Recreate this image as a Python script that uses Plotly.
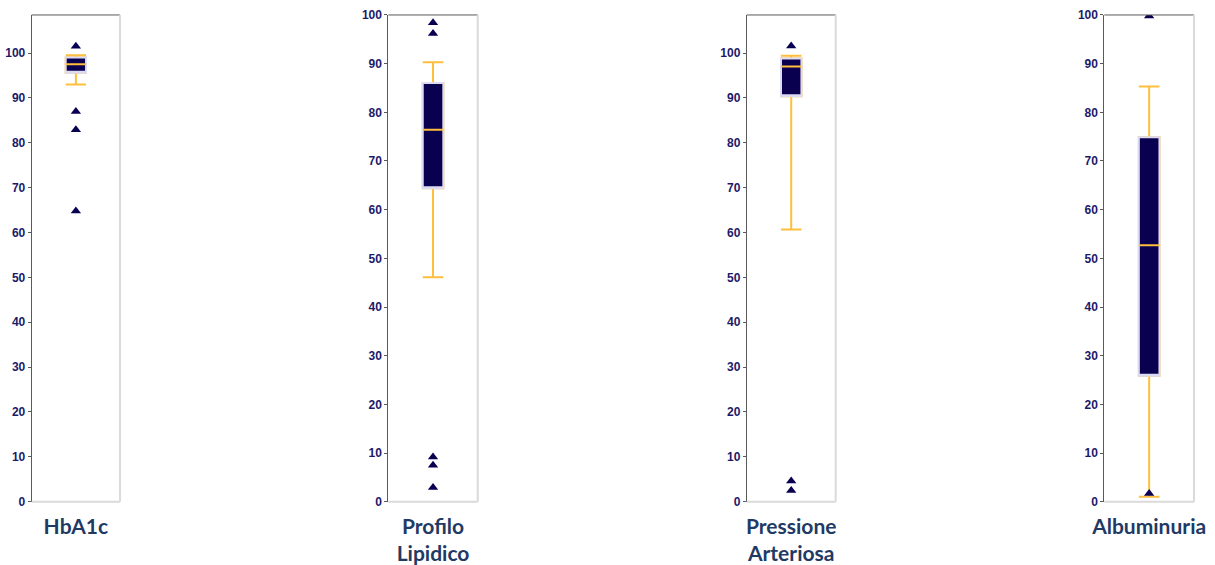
import plotly.graph_objects as go

# Indicator categories (tick labels under each panel)
categories = ["HbA1c", "Profilo<br>Lipidico", "Pressione<br>Arteriosa", "Albuminuria"]

# Box statistics per indicator (%)
q1 = [95.6, 64.4, 90.4, 25.9]
median = [97.5, 76.4, 97.0, 52.7]
q3 = [99.0, 86.0, 98.8, 74.9]
lower_whisker = [93.0, 46.1, 60.7, 1.0]
upper_whisker = [99.5, 90.3, 99.4, 85.3]

# Outlying centres per indicator
outliers_hba1c = [101.5, 87.0, 82.9, 64.8]
outliers_lipidi = [98.4, 96.2, 9.2, 7.5, 2.9]
outliers_pressione = [101.6, 4.6, 2.5]
outliers_albuminuria = [99.8, 1.7]
outliers = [outliers_hba1c, outliers_lipidi, outliers_pressione, outliers_albuminuria]

# Upper end of each value axis
y_max = [108.5, 100, 108.5, 100]

NAVY = "#0a0050"
GOLD = "#ffbf3c"
EDGE = "#dddbf1"
TICK = "#1b1a6a"
TITLE = "#1f3a64"

x_domains = [(0.0261, 0.0988), (0.3196, 0.3932), (0.6146, 0.6878), (0.9089, 0.9827)]
y_domain = (0.112, 0.9735)
BOX_W = 0.23

fig = go.Figure()

for i, cat in enumerate(categories):
    n = "" if i == 0 else str(i + 1)
    xa, ya = "x" + n, "y" + n

    # whiskers, caps and box body
    fig.add_trace(go.Box(
        x=[cat], q1=[q1[i]], median=[median[i]], q3=[q3[i]],
        lowerfence=[lower_whisker[i]], upperfence=[upper_whisker[i]],
        width=BOX_W, whiskerwidth=1, boxpoints=False,
        fillcolor=NAVY, line=dict(color=GOLD, width=2),
        xaxis=xa, yaxis=ya, showlegend=False, hoverinfo="skip",
    ))
    # pale outline over the box body
    fig.add_trace(go.Box(
        x=[cat], q1=[q1[i]], median=[q1[i]], q3=[q3[i]],
        lowerfence=[q1[i]], upperfence=[q3[i]],
        width=BOX_W, whiskerwidth=0, boxpoints=False,
        fillcolor=NAVY, line=dict(color=EDGE, width=2),
        xaxis=xa, yaxis=ya, showlegend=False, hoverinfo="skip",
    ))
    # median line
    fig.add_trace(go.Box(
        x=[cat], q1=[median[i]], median=[median[i]], q3=[median[i]],
        lowerfence=[median[i]], upperfence=[median[i]],
        width=BOX_W, whiskerwidth=0, boxpoints=False,
        fillcolor="rgba(0,0,0,0)", line=dict(color=GOLD, width=2),
        xaxis=xa, yaxis=ya, showlegend=False, hoverinfo="skip",
    ))
    # outliers
    fig.add_trace(go.Scatter(
        x=[cat] * len(outliers[i]), y=outliers[i], mode="markers",
        marker=dict(symbol="triangle-up", size=9, color=NAVY),
        xaxis=xa, yaxis=ya, showlegend=False, hoverinfo="skip",
    ))

    fig.update_layout({
        "xaxis" + n: dict(
            domain=list(x_domains[i]), anchor=ya, type="category",
            range=[-0.5, 0.5], showgrid=False, zeroline=False,
            showline=False, ticks="", automargin=False,
            tickfont=dict(family="Lato", size=21, color=TITLE, weight="bold"),
            ticklabelstandoff=10,
        ),
        "yaxis" + n: dict(
            domain=list(y_domain), anchor=xa, range=[0, y_max[i]],
            dtick=10, tick0=0, showgrid=False, zeroline=False,
            showline=True, linecolor="#5a5a5a", linewidth=1,
            ticks="outside", ticklen=3, tickcolor="#5a5a5a", automargin=False,
            tickfont=dict(family="Liberation Sans", size=12, color=TICK, weight="bold"),
        ),
    })

    # frame: dark top edge, light right and bottom edges
    fig.add_shape(type="line", xref=xa + " domain", yref=ya + " domain",
                  x0=0, x1=1, y0=1, y1=1, line=dict(color="#5a5a5a", width=1))
    fig.add_shape(type="line", xref=xa + " domain", yref=ya + " domain",
                  x0=1, x1=1, y0=0, y1=1, line=dict(color="#dadada", width=2))
    fig.add_shape(type="line", xref=xa + " domain", yref=ya + " domain",
                  x0=0, x1=1, y0=0, y1=0, line=dict(color="#dadada", width=2))

fig.update_layout(
    width=1215, height=565,
    margin=dict(l=0, r=0, t=0, b=0, autoexpand=False),
    paper_bgcolor="white", plot_bgcolor="white",
    boxmode="overlay",
)

fig.write_html("out.html")
